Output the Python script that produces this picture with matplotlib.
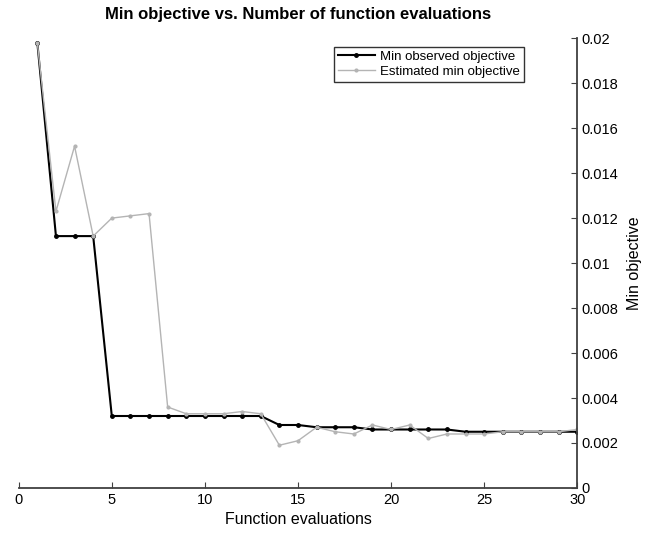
import numpy as np
import matplotlib.pyplot as plt

plt.rcParams['font.family'] = ['Liberation Sans', 'DejaVu Sans']

evals = np.arange(1, 31)
observed = [0.0198, 0.0112, 0.0112, 0.0112, 0.0032, 0.0032, 0.0032, 0.0032, 0.0032, 0.0032,
            0.0032, 0.0032, 0.0032, 0.0028, 0.0028, 0.0027, 0.0027, 0.0027, 0.0026, 0.0026,
            0.0026, 0.0026, 0.0026, 0.0025, 0.0025, 0.0025, 0.0025, 0.0025, 0.0025, 0.0025]
estimated = [0.0198, 0.0123, 0.0152, 0.0112, 0.0120, 0.0121, 0.0122, 0.0036, 0.0033, 0.0033,
             0.0033, 0.0034, 0.0033, 0.0019, 0.0021, 0.0027, 0.0025, 0.0024, 0.0028, 0.0026,
             0.0028, 0.0022, 0.0024, 0.0024, 0.0024, 0.0025, 0.0025, 0.0025, 0.0025, 0.0026]

fig = plt.figure(figsize=(6.45, 5.38), dpi=100)
ax = fig.add_axes([0.029, 0.093, 0.866, 0.836])

ax.plot(evals, observed, color='black', lw=1.5, marker='.', ms=5, label='Min observed objective')
ax.plot(evals, estimated, color='#b4b4b4', lw=1.0, marker='.', ms=4, label='Estimated min objective')

ax.set_xlim(0, 30)
ax.set_ylim(0, 0.02)
ax.set_xticks(range(0, 31, 5))
ax.set_yticks(np.arange(0, 0.0201, 0.002))
ax.set_yticklabels(['0', '0.002', '0.004', '0.006', '0.008', '0.01', '0.012',
                    '0.014', '0.016', '0.018', '0.02'])

for s in ['top', 'left']:
    ax.spines[s].set_visible(False)
for s in ['bottom', 'right']:
    ax.spines[s].set_color('#404040')
    ax.spines[s].set_linewidth(1.3)
ax.yaxis.tick_right()
ax.yaxis.set_label_position('right')
ax.tick_params(direction='in', length=4, color='#404040', labelsize=10.5)
ax.tick_params(axis='y', pad=3)

ax.set_xlabel('Function evaluations', fontsize=11.5)
ax.set_ylabel('Min objective', fontsize=11.5, labelpad=6)
ax.set_title('Min objective vs. Number of function evaluations', fontsize=12, fontweight='bold', pad=14)

leg = ax.legend(loc='upper right', bbox_to_anchor=(0.916, 0.996), fontsize=9.5, frameon=True,
                fancybox=False, edgecolor='black', handlelength=2.8, handletextpad=0.4,
                borderpad=0.3, labelspacing=0.2)
leg.get_frame().set_linewidth(1.0)

fig.savefig('out.png', dpi=100)
